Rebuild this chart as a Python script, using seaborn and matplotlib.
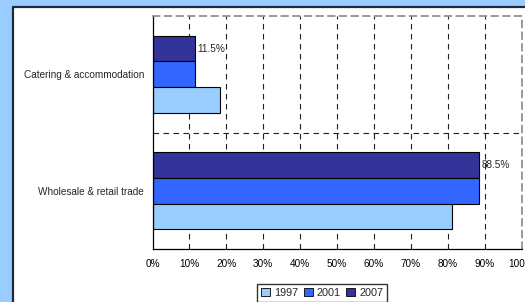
import matplotlib
matplotlib.use("Agg")
import matplotlib.pyplot as plt
import seaborn as sns
import pandas as pd
from matplotlib.patches import Rectangle, Patch

categories = ["Catering & accommodation", "Wholesale & retail trade"]
years = ["1997", "2001", "2007"]
v1997 = [18.3, 81.2]
v2001 = [11.5, 88.5]
v2007 = [11.5, 88.5]
xticks = [0, 10, 20, 30, 40, 50, 60, 70, 80, 90, 100]
xticklabels = ["0%", "10%", "20%", "30%", "40%", "50%", "60%", "70%", "80%", "90%", "100%"]

colors = {"1997": "#99CCFF", "2001": "#3366FF", "2007": "#333399"}

rows = []
for yr, vals in zip(years, [v1997, v2001, v2007]):
    for c, v in zip(categories, vals):
        rows.append({"cat": c, "year": yr, "val": v})
df = pd.DataFrame(rows)

sns.set_style("white")
plt.rcParams["font.family"] = ["Liberation Sans", "DejaVu Sans"]

fig = plt.figure(figsize=(5.25, 3.02), dpi=100)
fig.patch.set_facecolor("#99CCFF")
# white panel
fig.patches.append(Rectangle((13/525, 0), 1.0, 1 - 7/302, transform=fig.transFigure,
                             facecolor="white", edgecolor="none", zorder=-5))
fig.lines.append(plt.Line2D([13/525, 1], [1 - 7/302, 1 - 7/302], transform=fig.transFigure,
                            color="#1f2a36", lw=1.6, zorder=-4))
fig.lines.append(plt.Line2D([13/525, 13/525], [0, 1 - 7/302], transform=fig.transFigure,
                            color="#1f2a36", lw=1.6, zorder=-4))

ax = fig.add_axes([152.5/525, 1 - 249/302, (521.5 - 152.5)/525, (249 - 16)/302])
ax.set_facecolor("white")

sns.barplot(data=df, y="cat", x="val", hue="year", hue_order=["2007", "2001", "1997"],
            order=categories, palette=colors, orient="h", width=0.66,
            edgecolor="black", linewidth=0.8, ax=ax, legend=False, saturation=1)

ax.set_xlim(0, 100)
ax.set_ylim(1.5, -0.5)
ax.set_xticks(xticks)
ax.set_xticklabels(xticklabels, fontsize=7.2)
ax.set_xlabel("")
ax.set_ylabel("")
ax.tick_params(axis="x", direction="out", length=2.5, width=0.8, pad=4.5, colors="black")
ax.tick_params(axis="y", length=0, pad=6, labelsize=7.2)
ax.set_yticks([-0.5, 0.5, 1.5], minor=True)
ax.tick_params(axis="y", which="minor", length=3, width=0.8, direction="out")

# gridlines
for x in xticks[1:-1]:
    ax.axvline(x, color="#222222", lw=0.8, ls=(0, (5, 4)), zorder=0.5)
ax.axhline(0.5, color="#222222", lw=0.8, ls=(0, (5, 4)), zorder=0.5)

for s in ["left", "bottom"]:
    ax.spines[s].set_color("black")
    ax.spines[s].set_linewidth(0.9)
for s in ["top", "right"]:
    ax.spines[s].set_color("#888888")
    ax.spines[s].set_linewidth(1.2)
    ax.spines[s].set_linestyle((0, (4, 3)))

# data labels on 2007 bars
cont2007 = ax.containers[0]
ax.bar_label(cont2007, labels=[f"{v}%" for v in v2007], padding=2, fontsize=7.2)

handles = [Patch(facecolor=colors[y], edgecolor="black", linewidth=0.6) for y in years]
fig.legend(handles, years, loc="upper center", bbox_to_anchor=(322/525, 1 - 284/302),
           ncol=3, fontsize=7.8, frameon=True, fancybox=False, edgecolor="black",
           handlelength=0.85, handleheight=0.85, handletextpad=0.35, columnspacing=0.5,
           borderpad=0.35, borderaxespad=0)

fig.savefig("out.png", dpi=100, facecolor=fig.get_facecolor())
